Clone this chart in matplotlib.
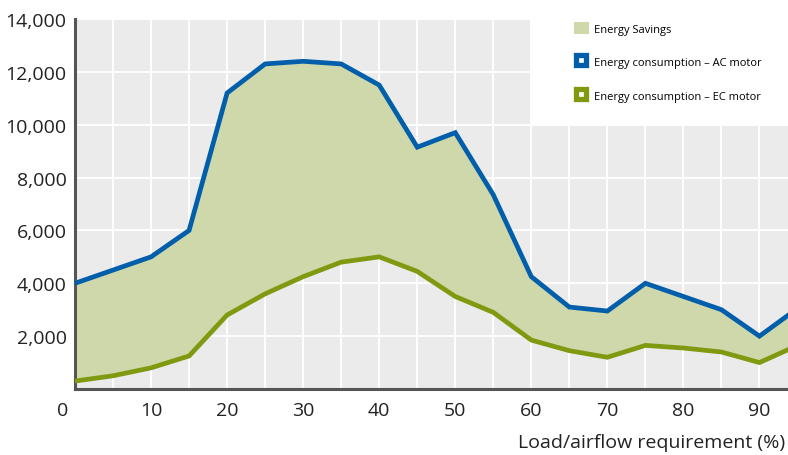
import matplotlib
matplotlib.use("Agg")
import matplotlib.pyplot as plt
import matplotlib.transforms as mtransforms
from matplotlib.lines import Line2D
from matplotlib.patches import Patch

# load (%) and energy consumption values
load = [0, 5, 10, 15, 20, 25, 30, 35, 40, 45, 50, 55, 60, 65, 70, 75, 80, 85, 90, 95]
ac_motor = [4000, 4500, 5000, 6000, 11200, 12300, 12400, 12300, 11500, 9150,
            9700, 7350, 4250, 3100, 2950, 4000, 3500, 3000, 2000, 3050]
ec_motor = [300, 500, 800, 1250, 2800, 3600, 4250, 4800, 5000, 4450,
            3500, 2900, 1850, 1450, 1200, 1650, 1550, 1400, 1000, 1650]
y_ticks = [2000, 4000, 6000, 8000, 10000, 12000, 14000]
x_ticks = [0, 10, 20, 30, 40, 50, 60, 70, 80, 90]

blue = '#005eaa'
green = '#7f9a10'
fill = '#cfd8aa'

plt.rcParams['font.family'] = ['Open Sans', 'DejaVu Sans']

fig = plt.figure(figsize=(7.88, 4.56), dpi=100)
ax = fig.add_axes([75 / 788, 1 - 390 / 456, 1 - 75 / 788, 370 / 456])
ax.set_facecolor('#ebebeb')

# grid
ax.set_xticks(range(5, 95, 5), minor=True)
ax.set_xticks(x_ticks)
ax.set_yticks(y_ticks)
ax.grid(True, which='both', axis='x', color='white', linewidth=1.3)
ax.grid(True, which='major', axis='y', color='white', linewidth=1.3)
ax.set_axisbelow(True)

ax.fill_between(load, ec_motor, ac_motor, color=fill, linewidth=0, zorder=2)
ax.plot(load, ac_motor, color=blue, linewidth=3.4, zorder=3, solid_joinstyle='miter')
ax.plot(load, ec_motor, color=green, linewidth=3.4, zorder=3, solid_joinstyle='miter')

ax.set_xlim(0, 93.75)
ax.set_ylim(0, 14000)
ax.set_yticklabels([f'{v:,}' for v in y_ticks])
ax.tick_params(which='both', length=0, labelsize=14, colors='#222222')
ax.tick_params(axis='y', pad=6)
ax.tick_params(axis='x', pad=9)
# first x label sits a bit left of the axis
lbl0 = ax.get_xticklabels()[0]
lbl0.set_transform(lbl0.get_transform() + mtransforms.ScaledTranslation(-12 / 100, 0, fig.dpi_scale_trans))

for s in ['top', 'right']:
    ax.spines[s].set_visible(False)
for s in ['left', 'bottom']:
    ax.spines[s].set_color('#555555')
    ax.spines[s].set_linewidth(2.2)

fig.text(785 / 788, 1 - 443 / 456, 'Load/airflow requirement (%)', ha='right', va='center',
         fontsize=14, color='#222222')

# legend in a white box at top right
handles = [
    Patch(facecolor=fill, edgecolor='none'),
    Line2D([], [], linestyle='none', marker='s', markersize=7.8, markerfacecolor='white',
           markeredgecolor=blue, markeredgewidth=3.8),
    Line2D([], [], linestyle='none', marker='s', markersize=7.8, markerfacecolor='white',
           markeredgecolor=green, markeredgewidth=3.8),
]
labels = ['Energy Savings', 'Energy consumption \u2013 AC motor', 'Energy consumption \u2013 EC motor']
fig.patches.append(plt.Rectangle((530 / 788, 1 - 127 / 456), 258 / 788, 127 / 456,
                                 transform=fig.transFigure, facecolor='white', edgecolor='none', zorder=5))
leg = fig.legend(handles, labels, loc='upper left', bbox_to_anchor=(568 / 788, 1 - 17 / 456),
                 frameon=False, fontsize=8, labelspacing=1.85, handlelength=1.4, handleheight=1.4,
                 handletextpad=0.45, borderpad=0)
leg.set_zorder(6)

fig.savefig('out.png', dpi=100)
